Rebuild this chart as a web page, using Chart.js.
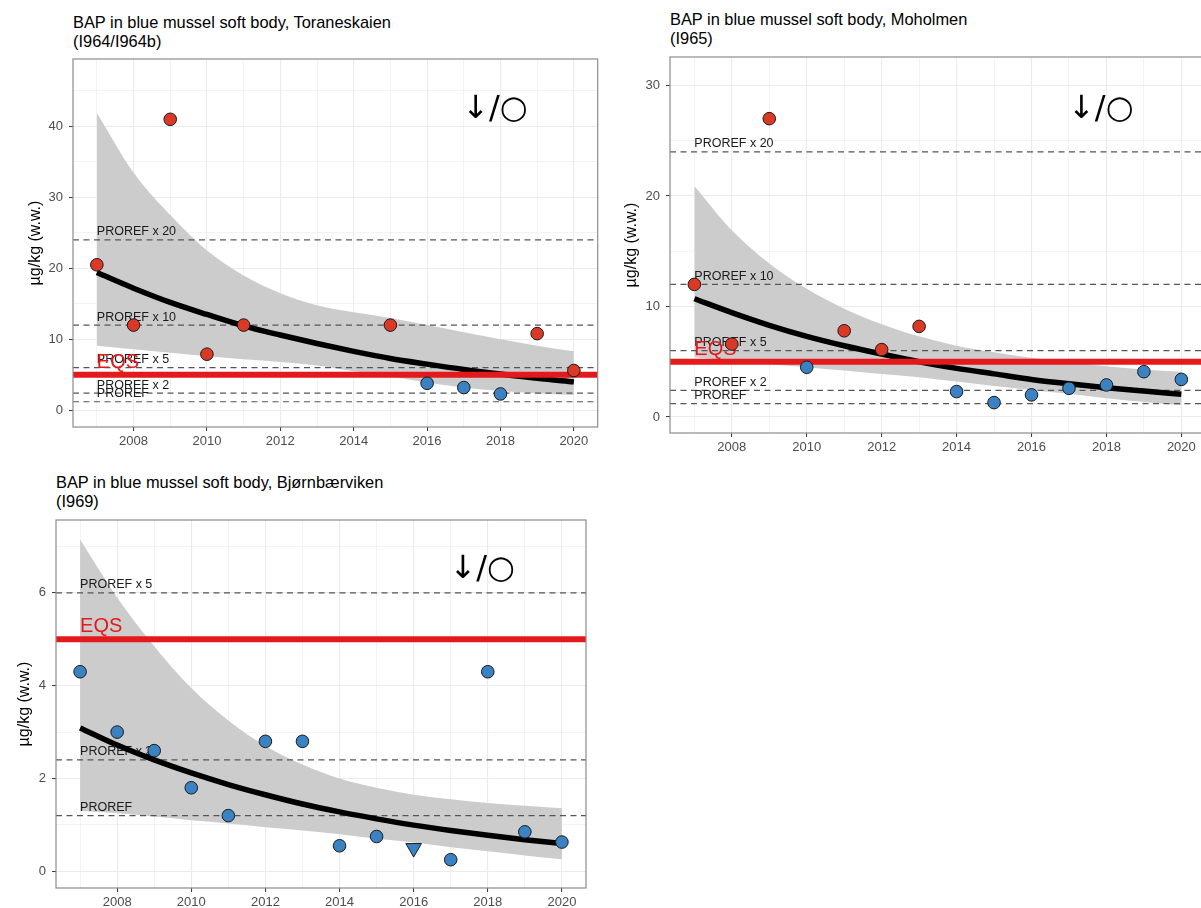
<!DOCTYPE html>
<html>
<head>
<meta charset="utf-8">
<script src="https://cdn.jsdelivr.net/npm/chart.js@4.4.1/dist/chart.umd.min.js"></script>
<style>
  html, body { margin: 0; padding: 0; background: #fff; overflow: hidden; }
  body { width: 1201px; height: 908px; position: relative; font-family: "Liberation Sans", Arial, sans-serif; }
  .panel { position: absolute; }
  .title { position: absolute; font-size: 16.4px; line-height: 18.5px; color: #000; white-space: nowrap; }
</style>
</head>
<body>
<div class="title" style="left:73px; top:13px">BAP in blue mussel soft body, Toraneskaien<br>(I964/I964b)</div>
<div class="title" style="left:670px; top:10px">BAP in blue mussel soft body, Moholmen<br>(I965)</div>
<div class="title" style="left:56px; top:473px">BAP in blue mussel soft body, Bjørnbærviken<br>(I969)</div>

<div class="panel" style="left:0; top:0"><canvas id="tor" width="605" height="457"></canvas></div>
<div class="panel" style="left:610px; top:0"><canvas id="moh" width="603" height="463"></canvas></div>
<div class="panel" style="left:0; top:470px"><canvas id="bjo" width="596" height="448"></canvas></div>

<script>
// shared axis ticks and reference levels
const yearMajor = [2008, 2010, 2012, 2014, 2016, 2018, 2020];
const yearMinor = [2007, 2009, 2011, 2013, 2015, 2017, 2019];
const fitYears  = [2007, 2008, 2009, 2010, 2011, 2012, 2013, 2014, 2015, 2016, 2017, 2018, 2019, 2020];

const prorefLabels = ['PROREF', 'PROREF x 2', 'PROREF x 5', 'PROREF x 10', 'PROREF x 20'];
const prorefValues = [1.2, 2.4, 6, 12, 24];
const eqsLevel = 5;
const trendSymbol = '↓/○';

// Toraneskaien (I964/I964b)
const torYears  = [2007, 2008, 2009, 2010, 2011, 2015, 2016, 2017, 2018, 2019, 2020];
const torValues = [20.5, 12, 41, 7.9, 12, 12, 3.8, 3.2, 2.3, 10.8, 5.6];
const torTrend  = [19.4, 17.2, 15.2, 13.5, 11.9, 10.6, 9.4, 8.3, 7.3, 6.5, 5.75, 5.1, 4.5, 4.0];
const torUpper  = [41.9, 33.5, 27.5, 22.5, 19.0, 16.5, 14.8, 13.8, 13.0, 12.0, 11.0, 10.0, 9.1, 8.3];
const torLower  = [9.1, 8.6, 8.1, 7.6, 7.2, 6.8, 6.3, 5.5, 4.8, 3.9, 3.2, 2.7, 2.4, 2.15];
const torYMajor = [0, 10, 20, 30, 40];
const torYMinor = [5, 15, 25, 35, 45];

// Moholmen (I965)
const mohYears  = [2007, 2008, 2009, 2010, 2011, 2012, 2013, 2014, 2015, 2016, 2017, 2018, 2019, 2020];
const mohValues = [12, 6.6, 27, 4.5, 7.8, 6.1, 8.2, 2.3, 1.3, 2.0, 2.6, 2.9, 4.1, 3.4];
const mohTrend  = [10.7, 9.45, 8.3, 7.3, 6.45, 5.7, 5.0, 4.4, 3.9, 3.4, 3.0, 2.65, 2.35, 2.06];
const mohUpper  = [20.9, 16.9, 13.9, 11.6, 9.8, 8.4, 7.3, 6.45, 5.85, 5.35, 4.95, 4.6, 4.3, 4.1];
const mohLower  = [5.4, 5.1, 4.8, 4.5, 4.2, 3.9, 3.6, 3.2, 2.8, 2.45, 2.1, 1.7, 1.35, 1.06];
const mohYMajor = [0, 10, 20, 30];
const mohYMinor = [5, 15, 25];

// Bjørnbærviken (I969)
const bjoYears  = [2007, 2008, 2009, 2010, 2011, 2012, 2013, 2014, 2015, 2016, 2017, 2018, 2019, 2020];
const bjoValues = [4.3, 3.0, 2.6, 1.8, 1.2, 2.8, 2.8, 0.55, 0.75, 0.5, 0.25, 4.3, 0.85, 0.63];
const bjoBelowLoq = [false, false, false, false, false, false, false, false, false, true, false, false, false, false];
const bjoTrend  = [3.09, 2.72, 2.40, 2.12, 1.87, 1.65, 1.45, 1.28, 1.13, 0.995, 0.88, 0.775, 0.68, 0.60];
const bjoUpper  = [7.15, 5.9, 4.85, 3.95, 3.25, 2.7, 2.3, 2.0, 1.8, 1.65, 1.55, 1.47, 1.41, 1.36];
const bjoLower  = [1.30, 1.25, 1.18, 1.10, 1.03, 0.95, 0.88, 0.80, 0.70, 0.62, 0.52, 0.43, 0.34, 0.26];
const bjoYMajor = [0, 2, 4, 6];
const bjoYMinor = [1, 3, 5, 7];

const RED = '#da3a25';
const BLUE = '#3a82c2';
const FONT = '"Liberation Sans", Arial, sans-serif';
const X_MIN = 2006.35, X_MAX = 2020.65;

const xy = (xs, ys) => xs.map((x, i) => ({ x, y: ys[i] }));
const flat = (y) => [{ x: X_MIN, y }, { x: X_MAX, y }];

// reference labels go under the trend line and points, symbol and border on top
const decorations = {
  id: 'decorations',
  beforeDatasetDraw(chart, args) {
    if (chart.data.datasets[args.index].label !== 'Trend') return;
    const { ctx, chartArea: a, scales: { x, y } } = chart;
    ctx.save();
    ctx.beginPath();
    ctx.rect(a.left, a.top, a.right - a.left, a.bottom - a.top);
    ctx.clip();
    const lx = x.getPixelForValue(2007);
    ctx.textAlign = 'left';
    ctx.textBaseline = 'alphabetic';
    ctx.font = '12.5px ' + FONT;
    ctx.fillStyle = '#1a1a1a';
    prorefValues.forEach((v, i) => {
      if (v < y.max) ctx.fillText(prorefLabels[i], lx, y.getPixelForValue(v) - 4.5);
    });
    ctx.font = '20px ' + FONT;
    ctx.fillStyle = '#e3191c';
    ctx.fillText('EQS', lx, y.getPixelForValue(eqsLevel) - 7);
    ctx.restore();
  },
  afterDatasetsDraw(chart, args, opts) {
    const { ctx, chartArea: a, scales: { x, y } } = chart;
    ctx.save();
    ctx.font = '32px "DejaVu Sans", sans-serif';
    ctx.fillStyle = '#000';
    ctx.textAlign = 'center';
    ctx.textBaseline = 'middle';
    ctx.fillText(trendSymbol, x.getPixelForValue(opts.symbolX), y.getPixelForValue(opts.symbolY));
    ctx.strokeStyle = '#8c8c8c';
    ctx.lineWidth = 1.2;
    ctx.strokeRect(a.left, a.top, a.right - a.left, a.bottom - a.top);
    ctx.restore();
  }
};

function tickAxis(major, minor) {
  return {
    afterBuildTicks: (axis) => {
      axis.ticks = [...major, ...minor].sort((a, b) => a - b).map(v => ({ value: v }));
    },
    ticks: {
      autoSkip: false,
      maxRotation: 0,
      color: '#4d4d4d',
      font: { family: FONT, size: 13 },
      padding: 3,
      callback: (v) => major.includes(v) ? String(v) : '',
    },
    grid: {
      color: '#ebebeb',
      lineWidth: (c) => major.includes(c.tick.value) ? 1.1 : 0.6,
      tickColor: (c) => major.includes(c.tick.value) ? '#333' : 'rgba(0,0,0,0)',
      tickWidth: 1,
      tickLength: 4,
    },
    border: { display: false },
  };
}

function makePanel(id, p) {
  const loq = (i) => p.belowLoq && p.belowLoq[i];
  const datasets = [
    {
      label: 'Measured',
      data: xy(p.years, p.values),
      backgroundColor: p.values.map(v => v > eqsLevel ? RED : BLUE),
      borderColor: '#1a1a1a',
      borderWidth: 1,
      pointRadius: p.years.map((_, i) => loq(i) ? 9 : 6.3),
      pointStyle: p.years.map((_, i) => loq(i) ? 'triangle' : 'circle'),
      rotation: p.years.map((_, i) => loq(i) ? 180 : 0),
      order: 0,
    },
    {
      label: 'EQS',
      data: flat(eqsLevel),
      showLine: true,
      borderColor: '#e3191c',
      borderWidth: 6,
      pointRadius: 0,
      order: 1,
    },
    {
      label: 'Trend',
      data: xy(fitYears, p.trend),
      showLine: true,
      borderColor: '#000',
      borderWidth: 5.5,
      pointRadius: 0,
      cubicInterpolationMode: 'monotone',
      order: 2,
    },
  ];
  prorefValues.forEach((v, i) => {
    if (v >= p.yMax) return;
    datasets.push({
      label: prorefLabels[i],
      data: flat(v),
      showLine: true,
      borderColor: '#555',
      borderWidth: 1.2,
      borderDash: [6, 4.5],
      pointRadius: 0,
      order: 3,
    });
  });
  datasets.push({
    label: 'Upper',
    data: xy(fitYears, p.upper),
    showLine: true,
    borderWidth: 0,
    borderColor: 'rgba(0,0,0,0)',
    backgroundColor: '#cccccc',
    fill: '+1',
    pointRadius: 0,
    cubicInterpolationMode: 'monotone',
    order: 4,
  });
  datasets.push({
    label: 'Lower',
    data: xy(fitYears, p.lower),
    showLine: true,
    borderWidth: 0,
    borderColor: 'rgba(0,0,0,0)',
    pointRadius: 0,
    cubicInterpolationMode: 'monotone',
    order: 5,
  });

  const xAxis = tickAxis(yearMajor, yearMinor);
  xAxis.type = 'linear';
  xAxis.min = X_MIN;
  xAxis.max = X_MAX;
  xAxis.afterFit = (s) => { s.height = 30; };

  const yAxis = tickAxis(p.yMajor, p.yMinor);
  yAxis.type = 'linear';
  yAxis.min = p.yMin;
  yAxis.max = p.yMax;
  yAxis.ticks.padding = 6;
  yAxis.afterFit = (s) => { s.width = p.axisWidth; };
  yAxis.title = {
    display: true,
    text: 'µg/kg (w.w.)',
    color: '#000',
    font: { family: FONT, size: 16 },
    padding: { top: p.titlePad, bottom: 0 },
  };

  new Chart(document.getElementById(id), {
    type: 'scatter',
    data: { datasets },
    plugins: [decorations],
    options: {
      responsive: false,
      animation: false,
      devicePixelRatio: 1,
      layout: { padding: { top: p.padTop, right: 7, left: 0, bottom: 0 } },
      scales: { x: xAxis, y: yAxis },
      plugins: {
        legend: { display: false },
        tooltip: { enabled: false },
        decorations: { symbolX: 2017.85, symbolY: p.symbolY },
      },
    },
  });
}

makePanel('tor', {
  years: torYears, values: torValues, trend: torTrend, upper: torUpper, lower: torLower,
  yMajor: torYMajor, yMinor: torYMinor, yMin: -2.36, yMax: 49.5,
  axisWidth: 73, titlePad: 26, padTop: 59, symbolY: 42.4,
});
makePanel('moh', {
  years: mohYears, values: mohValues, trend: mohTrend, upper: mohUpper, lower: mohLower,
  yMajor: mohYMajor, yMinor: mohYMinor, yMin: -1.45, yMax: 32.58,
  axisWidth: 60, titlePad: 12, padTop: 57, symbolY: 27.8,
});
makePanel('bjo', {
  years: bjoYears, values: bjoValues, belowLoq: bjoBelowLoq, trend: bjoTrend, upper: bjoUpper, lower: bjoLower,
  yMajor: bjoYMajor, yMinor: bjoYMinor, yMin: -0.36, yMax: 7.57,
  axisWidth: 56, titlePad: 15, padTop: 50, symbolY: 6.49,
});
</script>
</body>
</html>
